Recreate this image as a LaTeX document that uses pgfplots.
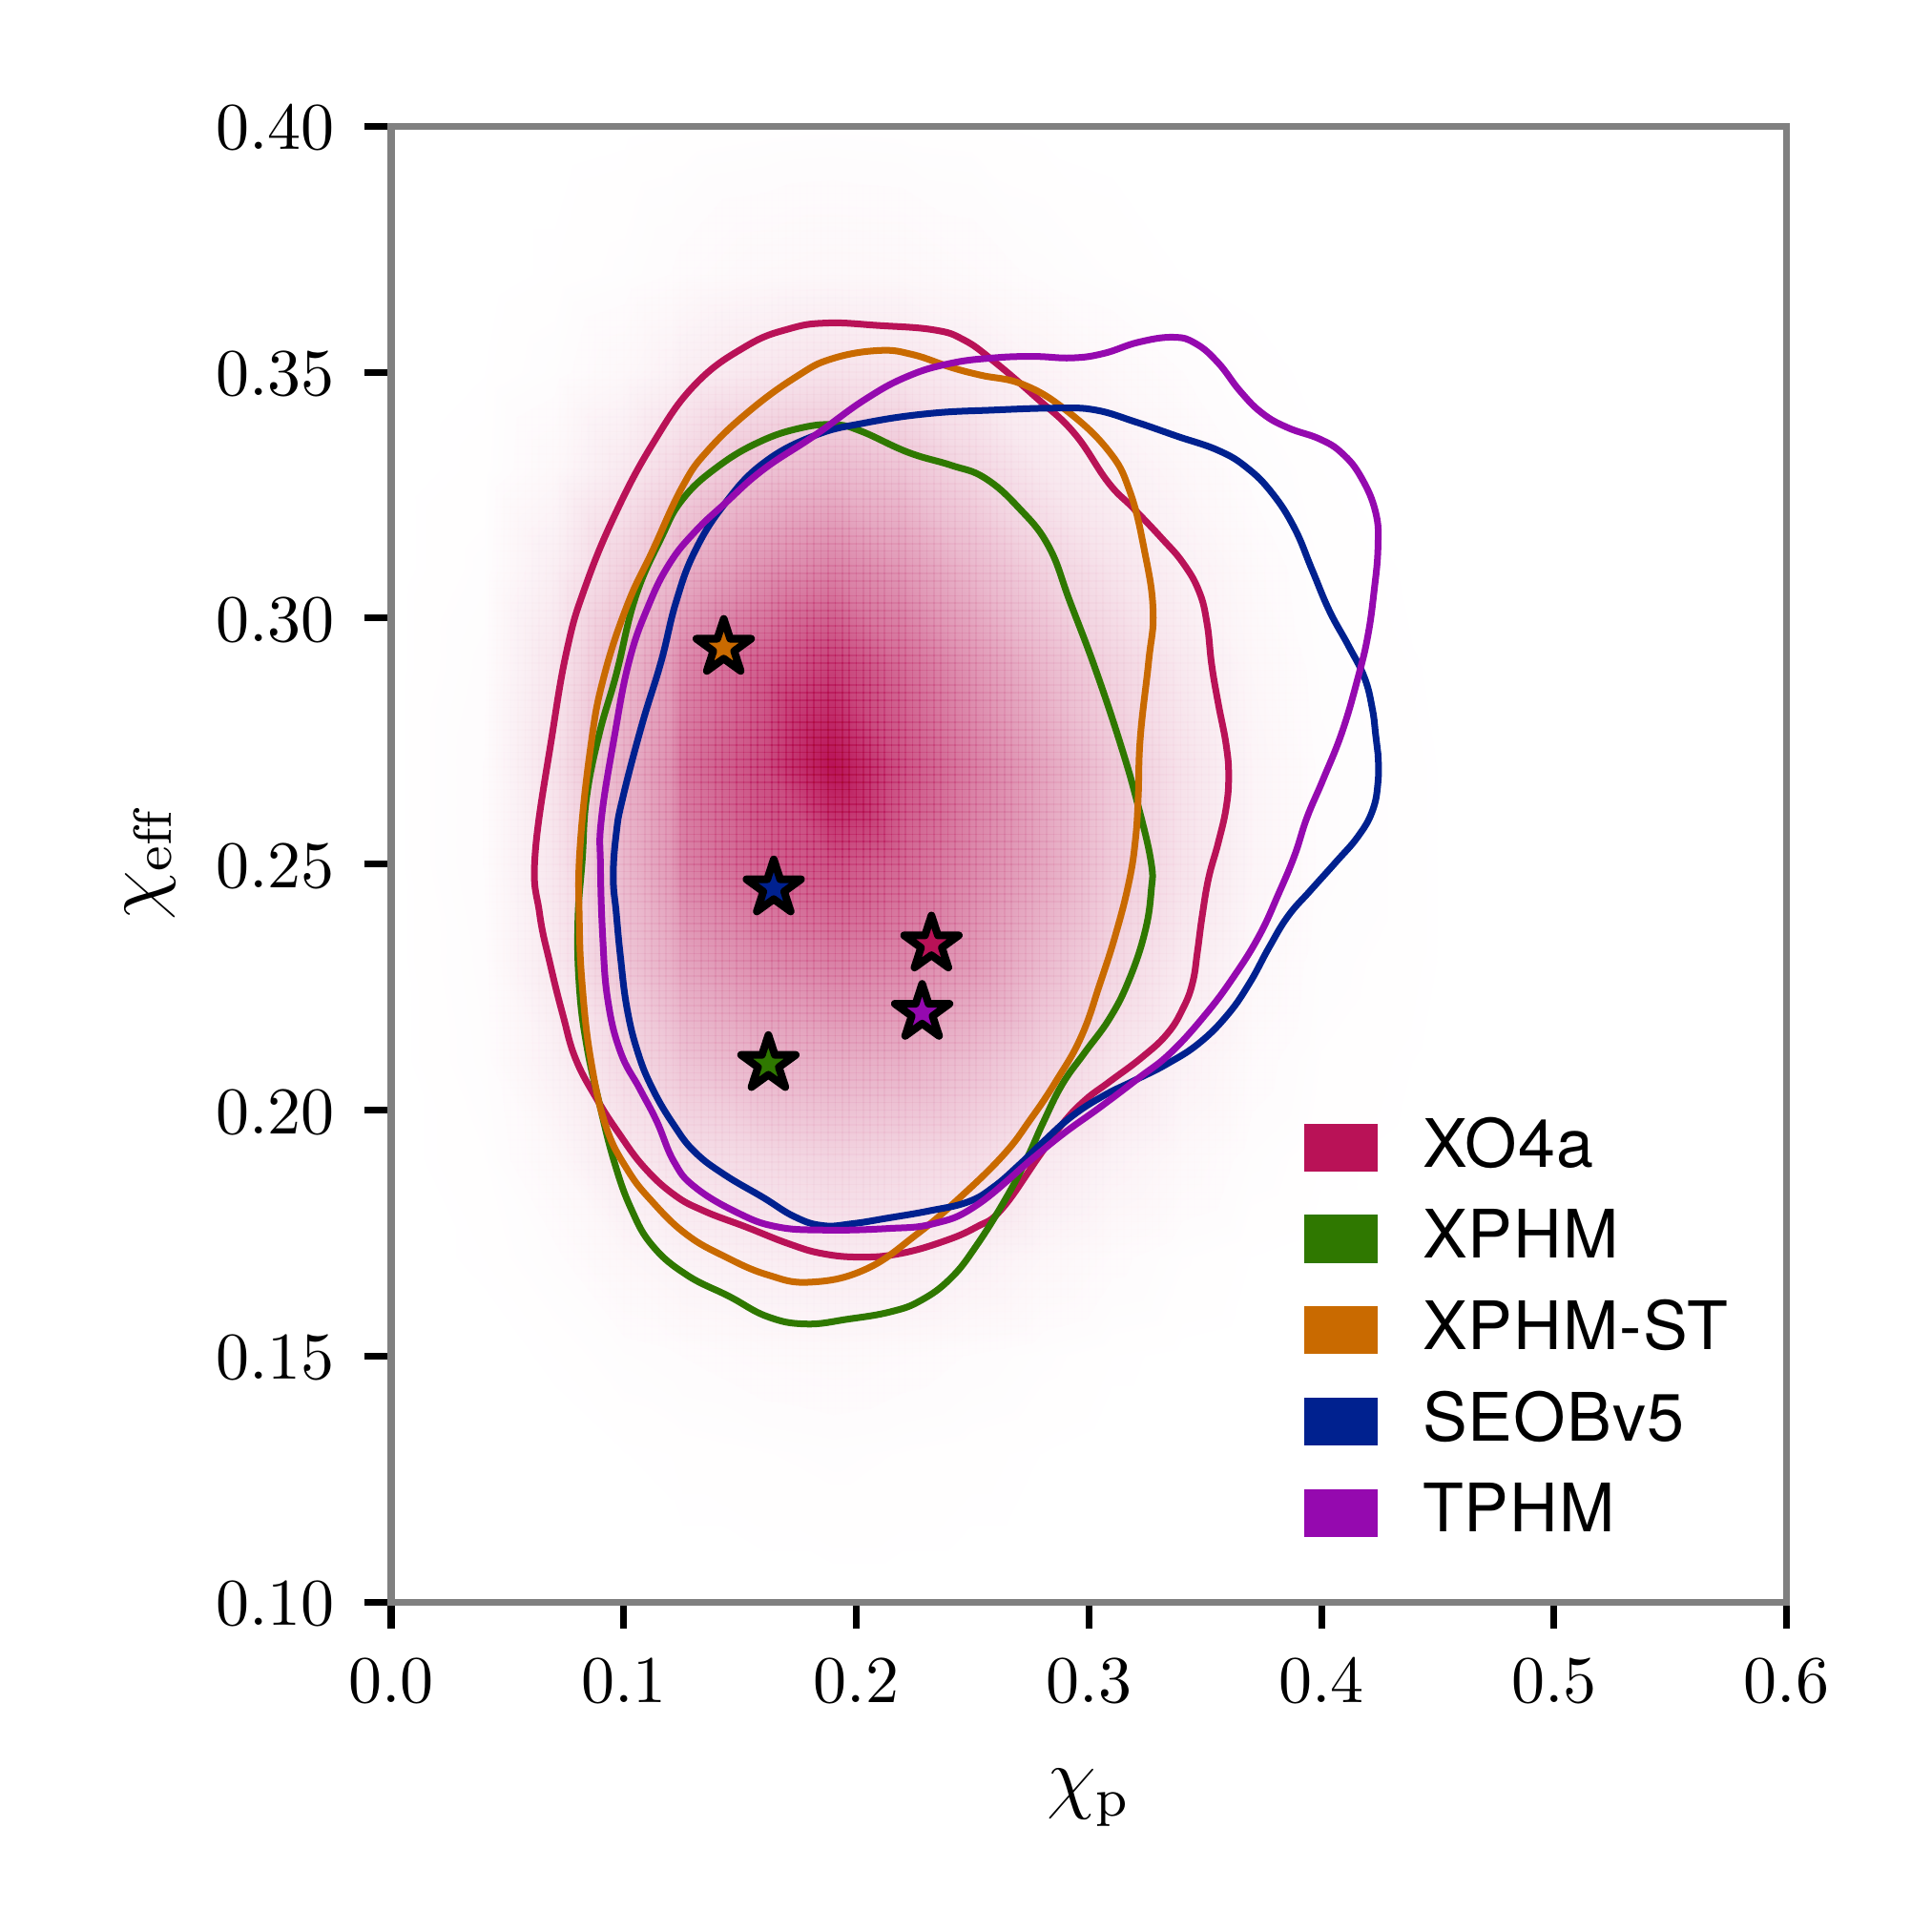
\documentclass[border=0pt]{standalone}
\usepackage{fontspec}
\usepackage{pgfplots}
\pgfplotsset{compat=1.18}
\newfontfamily\legfont[LetterSpace=1.6]{TeX Gyre Heros}

\definecolor{xoa}{HTML}{B91257}
\definecolor{xphm}{HTML}{2F7800}
\definecolor{xst}{HTML}{C96A00}
\definecolor{seob}{HTML}{00218F}
\definecolor{tphm}{HTML}{9509AF}

% five pointed star, same proportions as matplotlib's
\pgfdeclareplotmark{fstar}{%
  \pgfpathmoveto{\pgfpoint{0pt}{4.3pt}}
  \pgfpathlineto{\pgfpoint{-0.966pt}{1.329pt}}
  \pgfpathlineto{\pgfpoint{-4.09pt}{1.33pt}}
  \pgfpathlineto{\pgfpoint{-1.562pt}{-0.508pt}}
  \pgfpathlineto{\pgfpoint{-2.53pt}{-3.48pt}}
  \pgfpathlineto{\pgfpoint{0pt}{-1.643pt}}
  \pgfpathlineto{\pgfpoint{2.53pt}{-3.48pt}}
  \pgfpathlineto{\pgfpoint{1.562pt}{-0.508pt}}
  \pgfpathlineto{\pgfpoint{4.09pt}{1.33pt}}
  \pgfpathlineto{\pgfpoint{0.966pt}{1.329pt}}
  \pgfpathclose
  \pgfusepathqfillstroke}

\newcommand{\legpatch}[1]{\fill[#1, draw=none] (0pt,-3.57pt) rectangle (11pt,3.57pt);}

\pgfplotsset{
  frame/.style={at={(0pt,0pt)}, anchor=origin,
    scale only axis, width=208.8pt, height=220.8pt,
    xmin=0, xmax=0.6, ymin=0.10, ymax=0.40},
  contour/.style={smooth cycle, tension=0.72, line width=1pt, no markers},
  starmark/.style={only marks, mark=fstar, mark size=4.3pt,
    mark options={draw=black, fill=#1, line width=1.15pt, line join=round}, forget plot},
}

\begin{document}
\begin{tikzpicture}
\useasboundingbox (-58.53pt,-49.39pt) rectangle ++(289.08pt,289.08pt);
% first axis: density, its fine mesh, spines and ticks
\begin{axis}[
    frame,
    axis on top,
    xtick={0,0.1,0.2,0.3,0.4,0.5,0.6},
    ytick={0.10,0.15,0.20,0.25,0.30,0.35,0.40},
    xtick pos=bottom, ytick pos=left,
    tick align=outside, major tick length=4pt, minor tick length=0pt,
    major tick style={black, line width=1pt},
    minor tick style={draw=none},
    axis line style={draw=gray, line width=1pt},
    % blended, so that the mesh vanishes on white
    minor x tick num=32, minor y tick num=32,
    xmajorgrids, ymajorgrids, xminorgrids, yminorgrids,
    grid style={draw={rgb,1:red,0.78;green,0.78;blue,0.78}, line width=0.24pt, opacity=0.45, blend mode=color burn},
    scaled ticks=false,
    xticklabel style={/pgf/number format/fixed, /pgf/number format/fixed zerofill, /pgf/number format/precision=1, yshift=-1.1pt},
    yticklabel style={/pgf/number format/fixed, /pgf/number format/fixed zerofill, /pgf/number format/precision=2, xshift=-0.9pt, yshift=-0.3pt},
    xlabel={\fontsize{12}{14}\selectfont $\chi_{\mathrm{p}}$},
    ylabel={\fontsize{12}{14}\selectfont $\chi_{\mathrm{eff}}$},
    xlabel style={yshift=-3.1pt},
    ylabel shift=-0.75pt,
    colormap={dens}{rgb255=(255,255,255) rgb255=(185,18,87)},
    point meta min=0, point meta max=1,
]
% read off by eye: rows of constant chi_eff
\addplot[surf, shader=interp, mesh/cols=17, point meta=explicit, forget plot] coordinates {
(0,0.10)[0] (0.04,0.10)[0] (0.07,0.10)[0] (0.10,0.10)[0] (0.12,0.10)[0] (0.125,0.10)[0] (0.16,0.10)[0] (0.19,0.10)[0] (0.22,0.10)[0] (0.25,0.10)[0] (0.28,0.10)[0] (0.31,0.10)[0] (0.34,0.10)[0] (0.37,0.10)[0] (0.40,0.10)[0] (0.45,0.10)[0] (0.6,0.10)[0]
(0,0.13)[0] (0.04,0.13)[0] (0.07,0.13)[0] (0.10,0.13)[0.002] (0.12,0.13)[0.003] (0.125,0.13)[0.004] (0.16,0.13)[0.006] (0.19,0.13)[0.008] (0.22,0.13)[0.006] (0.25,0.13)[0.004] (0.28,0.13)[0.002] (0.31,0.13)[0] (0.34,0.13)[0] (0.37,0.13)[0] (0.40,0.13)[0] (0.45,0.13)[0] (0.6,0.13)[0]
(0,0.15)[0] (0.04,0.15)[0] (0.07,0.15)[0.003] (0.10,0.15)[0.01] (0.12,0.15)[0.013] (0.125,0.15)[0.015] (0.16,0.15)[0.022] (0.19,0.15)[0.025] (0.22,0.15)[0.02] (0.25,0.15)[0.014] (0.28,0.15)[0.008] (0.31,0.15)[0.003] (0.34,0.15)[0.001] (0.37,0.15)[0] (0.40,0.15)[0] (0.45,0.15)[0] (0.6,0.15)[0]
(0,0.17)[0] (0.04,0.17)[0.003] (0.07,0.17)[0.012] (0.10,0.17)[0.035] (0.12,0.17)[0.047] (0.125,0.17)[0.055] (0.16,0.17)[0.075] (0.19,0.17)[0.085] (0.22,0.17)[0.08] (0.25,0.17)[0.06] (0.28,0.17)[0.035] (0.31,0.17)[0.018] (0.34,0.17)[0.007] (0.37,0.17)[0.002] (0.40,0.17)[0] (0.45,0.17)[0] (0.6,0.17)[0]
(0,0.19)[0] (0.04,0.19)[0.006] (0.07,0.19)[0.03] (0.10,0.19)[0.09] (0.12,0.19)[0.12] (0.125,0.19)[0.13] (0.16,0.19)[0.16] (0.19,0.19)[0.18] (0.22,0.19)[0.17] (0.25,0.19)[0.15] (0.28,0.19)[0.09] (0.31,0.19)[0.055] (0.34,0.19)[0.028] (0.37,0.19)[0.01] (0.40,0.19)[0.003] (0.45,0.19)[0] (0.6,0.19)[0]
(0,0.21)[0] (0.04,0.21)[0.01] (0.07,0.21)[0.06] (0.10,0.21)[0.16] (0.12,0.21)[0.22] (0.125,0.21)[0.25] (0.16,0.21)[0.32] (0.19,0.21)[0.34] (0.22,0.21)[0.33] (0.25,0.21)[0.27] (0.28,0.21)[0.19] (0.31,0.21)[0.11] (0.34,0.21)[0.055] (0.37,0.21)[0.02] (0.40,0.21)[0.006] (0.45,0.21)[0.001] (0.6,0.21)[0]
(0,0.23)[0] (0.04,0.23)[0.012] (0.07,0.23)[0.09] (0.10,0.23)[0.24] (0.12,0.23)[0.33] (0.125,0.23)[0.38] (0.16,0.23)[0.48] (0.19,0.23)[0.53] (0.22,0.23)[0.50] (0.25,0.23)[0.42] (0.28,0.23)[0.29] (0.31,0.23)[0.17] (0.34,0.23)[0.09] (0.37,0.23)[0.032] (0.40,0.23)[0.009] (0.45,0.23)[0.002] (0.6,0.23)[0]
(0,0.25)[0] (0.04,0.25)[0.015] (0.07,0.25)[0.105] (0.10,0.25)[0.30] (0.12,0.25)[0.42] (0.125,0.25)[0.52] (0.16,0.25)[0.66] (0.19,0.25)[0.72] (0.22,0.25)[0.63] (0.25,0.25)[0.50] (0.28,0.25)[0.37] (0.31,0.25)[0.22] (0.34,0.25)[0.12] (0.37,0.25)[0.045] (0.40,0.25)[0.012] (0.45,0.25)[0.002] (0.6,0.25)[0]
(0,0.27)[0] (0.04,0.27)[0.015] (0.07,0.27)[0.12] (0.10,0.27)[0.33] (0.12,0.27)[0.46] (0.125,0.27)[0.58] (0.16,0.27)[0.75] (0.19,0.27)[1.0] (0.22,0.27)[0.72] (0.25,0.27)[0.54] (0.28,0.27)[0.38] (0.31,0.27)[0.23] (0.34,0.27)[0.12] (0.37,0.27)[0.045] (0.40,0.27)[0.012] (0.45,0.27)[0.002] (0.6,0.27)[0]
(0,0.29)[0] (0.04,0.29)[0.012] (0.07,0.29)[0.105] (0.10,0.29)[0.29] (0.12,0.29)[0.42] (0.125,0.29)[0.50] (0.16,0.29)[0.68] (0.19,0.29)[0.80] (0.22,0.29)[0.62] (0.25,0.29)[0.45] (0.28,0.29)[0.30] (0.31,0.29)[0.18] (0.34,0.29)[0.095] (0.37,0.29)[0.035] (0.40,0.29)[0.009] (0.45,0.29)[0.001] (0.6,0.29)[0]
(0,0.31)[0] (0.04,0.31)[0.008] (0.07,0.31)[0.07] (0.10,0.31)[0.19] (0.12,0.31)[0.28] (0.125,0.31)[0.33] (0.16,0.31)[0.46] (0.19,0.31)[0.52] (0.22,0.31)[0.43] (0.25,0.31)[0.30] (0.28,0.31)[0.19] (0.31,0.31)[0.115] (0.34,0.31)[0.06] (0.37,0.31)[0.024] (0.40,0.31)[0.006] (0.45,0.31)[0] (0.6,0.31)[0]
(0,0.33)[0] (0.04,0.33)[0.004] (0.07,0.33)[0.03] (0.10,0.33)[0.09] (0.12,0.33)[0.15] (0.125,0.33)[0.17] (0.16,0.33)[0.26] (0.19,0.33)[0.29] (0.22,0.33)[0.25] (0.25,0.33)[0.17] (0.28,0.33)[0.10] (0.31,0.33)[0.065] (0.34,0.33)[0.035] (0.37,0.33)[0.012] (0.40,0.33)[0.003] (0.45,0.33)[0] (0.6,0.33)[0]
(0,0.35)[0] (0.04,0.35)[0.002] (0.07,0.35)[0.01] (0.10,0.35)[0.03] (0.12,0.35)[0.055] (0.125,0.35)[0.07] (0.16,0.35)[0.10] (0.19,0.35)[0.12] (0.22,0.35)[0.11] (0.25,0.35)[0.08] (0.28,0.35)[0.05] (0.31,0.35)[0.03] (0.34,0.35)[0.015] (0.37,0.35)[0.005] (0.40,0.35)[0] (0.45,0.35)[0] (0.6,0.35)[0]
(0,0.37)[0] (0.04,0.37)[0] (0.07,0.37)[0.003] (0.10,0.37)[0.008] (0.12,0.37)[0.015] (0.125,0.37)[0.018] (0.16,0.37)[0.028] (0.19,0.37)[0.032] (0.22,0.37)[0.03] (0.25,0.37)[0.022] (0.28,0.37)[0.012] (0.31,0.37)[0.006] (0.34,0.37)[0.002] (0.37,0.37)[0] (0.40,0.37)[0] (0.45,0.37)[0] (0.6,0.37)[0]
(0,0.40)[0] (0.04,0.40)[0] (0.07,0.40)[0] (0.10,0.40)[0.001] (0.12,0.40)[0.002] (0.125,0.40)[0.002] (0.16,0.40)[0.004] (0.19,0.40)[0.005] (0.22,0.40)[0.004] (0.25,0.40)[0.003] (0.28,0.40)[0.001] (0.31,0.40)[0] (0.34,0.40)[0] (0.37,0.40)[0] (0.40,0.40)[0] (0.45,0.40)[0] (0.6,0.40)[0]
};
\end{axis}

% second axis on top: contours, medians, legend
\begin{axis}[
    frame,
    hide axis,
    legend cell align=left,
    legend style={draw=none, fill=none, font=\legfont\fontsize{10}{12}\selectfont,
      at={(0.6390,0.0215)}, anchor=south west, row sep=0.75pt,
      /tikz/column 1/.style={column sep=4.7pt}},
]
% XO4a
\addplot[contour, color=xoa, legend image code/.code={\legpatch{xoa}}] coordinates {
(.0619,.2520)(.0693,.2765)(.0757,.2938)(.0831,.3059)(.0959,.3207)(.1124,.3354)(.1307,.3475)(.1527,.3553)
(.1710,.3588)(.1875,.3600)(.2094,.3595)(.2333,.3586)(.2461,.3566)(.2589,.3523)(.2772,.3449)(.2937,.3376)
(.3083,.3276)(.3190,.3224)(.3310,.3164)(.3405,.3112)(.3474,.3054)(.3508,.2989)(.3528,.2905)(.3556,.2827)
(.3590,.2743)(.3601,.2679)(.3590,.2614)(.3556,.2543)(.3515,.2472)(.3487,.2394)(.3467,.2323)(.3446,.2259)
(.3405,.2207)(.3337,.2155)(.3228,.2107)(.3090,.2058)(.2981,.2019)(.2885,.1971)(.2790,.1909)(.2626,.1799)
(.2516,.1762)(.2369,.1732)(.2186,.1708)(.2021,.1701)(.1856,.1708)(.1710,.1728)(.1527,.1762)(.1344,.1795)
(.1216,.1828)(.1087,.1884)(.0977,.1954)(.0886,.2021)(.0794,.2103)(.0739,.2192)(.0684,.2296)(.0638,.2400)
};
\addlegendentry{XO4a}
% XPHM
\addplot[contour, color=xphm, legend image code/.code={\legpatch{xphm}}] coordinates {
(.0822,.2511)(.0840,.2635)(.0895,.2765)(.0968,.2886)(.1050,.3042)(.1161,.3163)(.1252,.3241)(.1399,.3306)
(.1582,.3358)(.1765,.3387)(.1911,.3393)(.2021,.3380)(.2223,.3337)(.2406,.3311)(.2552,.3285)(.2699,.3224)
(.2827,.3146)(.2919,.3033)(.3029,.2895)(.3139,.2739)(.3212,.2618)(.3267,.2505)(.3268,.2446)(.3241,.2362)
(.3173,.2265)(.3090,.2187)(.2981,.2116)(.2885,.2052)(.2803,.1974)(.2735,.1903)(.2644,.1821)(.2516,.1724)
(.2406,.1658)(.2278,.1613)(.2149,.1590)(.1966,.1575)(.1783,.1565)(.1618,.1580)(.1454,.1621)(.1270,.1665)
(.1124,.1724)(.1032,.1799)(.0959,.1895)(.0895,.2014)(.0840,.2133)(.0809,.2251)(.0803,.2385)
};
\addlegendentry{XPHM}
% XPHM-ST
\addplot[contour, color=xst, legend image code/.code={\legpatch{xst}}] coordinates {
(.0809,.2385)(.0812,.2533)(.0858,.2739)(.0913,.2878)(.1014,.3025)(.1124,.3137)(.1252,.3267)(.1362,.3341)
(.1545,.3423)(.1746,.3492)(.1893,.3527)(.2094,.3544)(.2241,.3536)(.2406,.3510)(.2534,.3494)(.2717,.3475)
(.2901,.3423)(.3083,.3341)(.3175,.3259)(.3239,.3137)(.3276,.3016)(.3257,.2912)(.3221,.2757)(.3212,.2635)
(.3200,.2549)(.3173,.2465)(.3118,.2362)(.3049,.2259)(.2967,.2149)(.2858,.2058)(.2749,.1981)(.2633,.1909)
(.2443,.1821)(.2259,.1747)(.2039,.1676)(.1801,.1650)(.1618,.1665)(.1435,.1702)(.1270,.1747)(.1124,.1813)
(.1014,.1880)(.0922,.1969)(.0858,.2103)(.0822,.2251)
};
\addlegendentry{XPHM-ST}
% SEOBv5
\addplot[contour, color=seob, legend image code/.code={\legpatch{seob}}] coordinates {
(.0955,.2474)(.0968,.2563)(.0996,.2635)(.1078,.2783)(.1161,.2912)(.1225,.3033)(.1307,.3137)(.1435,.3233)
(.1600,.3315)(.1820,.3371)(.2039,.3397)(.2314,.3416)(.2589,.3423)(.2864,.3427)(.3029,.3423)(.3200,.3399)
(.3378,.3370)(.3556,.3341)(.3679,.3306)(.3788,.3254)(.3884,.3183)(.3959,.3099)(.4034,.3015)(.4116,.2944)
(.4185,.2879)(.4219,.2815)(.4233,.2763)(.4243,.2724)(.4243,.2666)(.4219,.2608)(.4157,.2556)(.4062,.2504)
(.3952,.2446)(.3856,.2394)(.3774,.2330)(.3692,.2259)(.3597,.2194)(.3474,.2136)(.3337,.2094)(.3200,.2061)
(.3063,.2029)(.2926,.1987)(.2803,.1935)(.2699,.1888)(.2589,.1843)(.2479,.1813)(.2314,.1795)(.2131,.1780)
(.1985,.1769)(.1856,.1765)(.1735,.1783)(.1600,.1822)(.1435,.1868)(.1307,.1914)(.1216,.1969)(.1124,.2043)
(.1060,.2118)(.1014,.2207)(.0986,.2311)(.0968,.2400)
};
\addlegendentry{SEOBv5}
% TPHM
\addplot[contour, color=tphm, legend image code/.code={\legpatch{tphm}}] coordinates {
(.0900,.2496)(.0904,.2592)(.0959,.2757)(.1023,.2912)(.1106,.3025)(.1197,.3111)(.1307,.3176)(.1435,.3233)
(.1600,.3302)(.1820,.3371)(.2039,.3445)(.2223,.3492)(.2406,.3518)(.2589,.3529)(.2762,.3532)(.2926,.3529)
(.3063,.3538)(.3214,.3561)(.3364,.3571)(.3460,.3558)(.3556,.3519)(.3651,.3461)(.3747,.3416)(.3856,.3387)
(.3993,.3364)(.4089,.3335)(.4171,.3286)(.4233,.3215)(.4243,.3144)(.4226,.3054)(.4199,.2963)(.4157,.2879)
(.4089,.2769)(.4007,.2672)(.3938,.2595)(.3884,.2517)(.3815,.2439)(.3733,.2355)(.3624,.2272)(.3501,.2194)
(.3351,.2116)(.3214,.2065)(.3049,.2006)(.2899,.1955)(.2762,.1903)(.2516,.1806)(.2333,.1769)(.2131,.1759)
(.1856,.1756)(.1655,.1763)(.1490,.1791)(.1307,.1843)(.1216,.1895)(.1142,.1977)(.1069,.2043)(.0986,.2118)
(.0932,.2222)(.0910,.2348)
};
\addlegendentry{TPHM}

% medians
\addplot[starmark=xoa] coordinates {(0.2323,0.2337)};
\addplot[starmark=xphm] coordinates {(0.1622,0.2094)};
\addplot[starmark=xst] coordinates {(0.1430,0.2940)};
\addplot[starmark=seob] coordinates {(0.1645,0.2451)};
\addplot[starmark=tphm] coordinates {(0.2283,0.2198)};
\end{axis}
\end{tikzpicture}
\end{document}
